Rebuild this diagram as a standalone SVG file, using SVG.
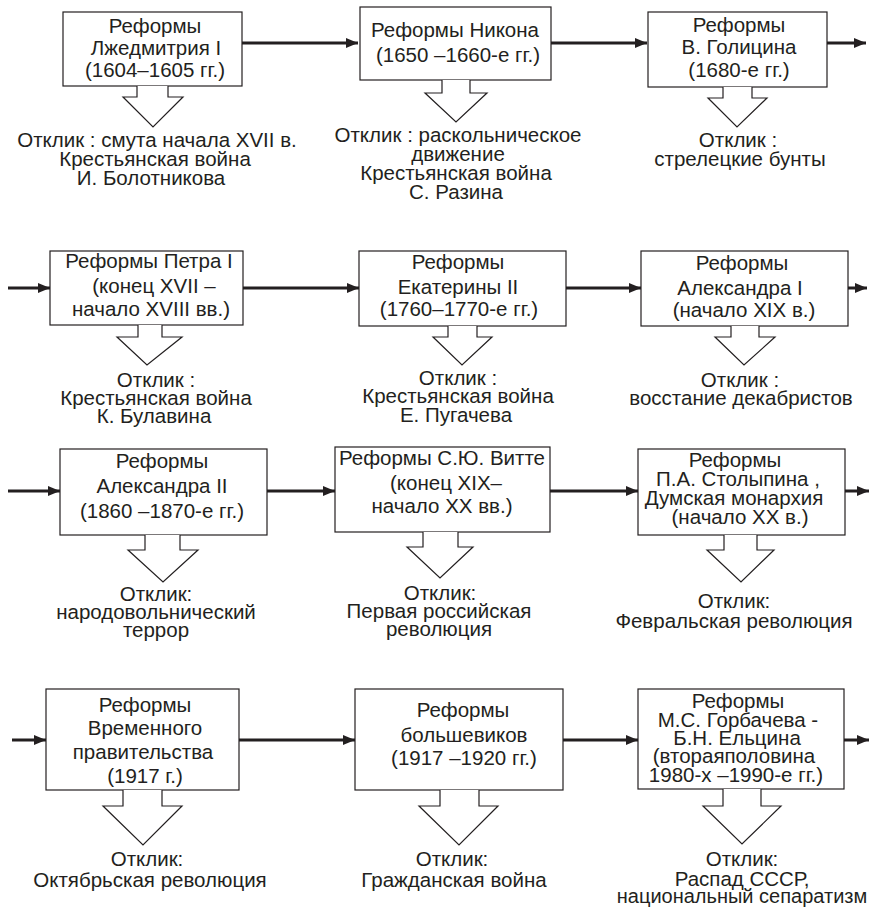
<svg xmlns="http://www.w3.org/2000/svg" width="871" height="907" viewBox="0 0 871 907">
<style>
text{font-family:"Liberation Sans",Arial,sans-serif;font-size:20.5px;fill:#231f20;text-anchor:middle}
.box{fill:#fff;stroke:#231f20;stroke-width:1.2}
.hol{fill:#fff;stroke:#231f20;stroke-width:1.2;stroke-linejoin:miter}
.con{fill:none;stroke:#231f20;stroke-width:3}
</style>
<defs>
<marker id="ah" markerUnits="userSpaceOnUse" markerWidth="12" markerHeight="10" refX="12" refY="5" orient="auto">
<path d="M0,0 L12,5 L0,10 z" fill="#231f20"/>
</marker>
</defs>
<rect width="871" height="907" fill="#fff"/>
<g id="connectors">
<line class="con" x1="242" y1="43" x2="358" y2="43" marker-end="url(#ah)"/>
<line class="con" x1="551" y1="43" x2="647" y2="43" marker-end="url(#ah)"/>
<line class="con" x1="827" y1="43" x2="866" y2="43" marker-end="url(#ah)"/>
<line class="con" x1="8" y1="288" x2="50" y2="288" marker-end="url(#ah)"/>
<line class="con" x1="243" y1="288" x2="359" y2="288" marker-end="url(#ah)"/>
<line class="con" x1="566" y1="288" x2="641" y2="288" marker-end="url(#ah)"/>
<line class="con" x1="848" y1="288" x2="867" y2="288" marker-end="url(#ah)"/>
<line class="con" x1="8" y1="491" x2="60" y2="491" marker-end="url(#ah)"/>
<line class="con" x1="267" y1="491" x2="335" y2="491" marker-end="url(#ah)"/>
<line class="con" x1="550" y1="491" x2="638" y2="491" marker-end="url(#ah)"/>
<line class="con" x1="845" y1="491" x2="869" y2="491" marker-end="url(#ah)"/>
<line class="con" x1="12" y1="740" x2="46" y2="740" marker-end="url(#ah)"/>
<line class="con" x1="239" y1="740" x2="355" y2="740" marker-end="url(#ah)"/>
<line class="con" x1="563" y1="740" x2="638" y2="740" marker-end="url(#ah)"/>
<line class="con" x1="844" y1="740" x2="869" y2="740" marker-end="url(#ah)"/>
</g>
<g id="n1">
<rect class="box" x="63" y="12" width="179" height="74"/>
<text x="155" y="33">Реформы</text><text x="156" y="55">Лжедмитрия I</text><text x="155" y="77">(1604–1605 гг.)</text>
<polyline class="hol" points="137,86 137,97 123,97 153,127 183,97 168,97 168,86"/>
<text x="157" y="147">Отклик : смута начала XVII в.</text><text x="155" y="166">Крестьянская война</text><text x="151" y="185">И. Болотникова</text>
</g>
<g id="n2">
<rect class="box" x="360" y="7" width="191" height="73"/>
<text x="455" y="37">Реформы Никона</text><text x="458" y="62">(1650 –1660-е гг.)</text>
<polyline class="hol" points="442,80 442,93 425,93 456,122 487,93 470,93 470,80"/>
<text x="458" y="142">Отклик : раскольническое</text><text x="458" y="161">движение</text><text x="456" y="180">Крестьянская война</text><text x="456" y="199">С. Разина</text>
</g>
<g id="n3">
<rect class="box" x="648" y="12" width="179" height="75"/>
<text x="739" y="32">Реформы</text><text x="739" y="54">В. Голицина</text><text x="739" y="77">(1680-е гг.)</text>
<polyline class="hol" points="723,87 723,98 708,98 737,127 767,98 752,98 752,87"/>
<text x="738" y="147">Отклик :</text><text x="740" y="166">стрелецкие бунты</text>
</g>
<g id="n4">
<rect class="box" x="50" y="251" width="193" height="74"/>
<text x="149" y="268">Реформы Петра I</text><text x="154" y="293">(конец XVII –</text><text x="151" y="316">начало XVIII вв.)</text>
<polyline class="hol" points="138,325 138,337 117,337 147,365 182,337 162,337 162,325"/>
<text x="156" y="387">Отклик :</text><text x="156" y="405">Крестьянская война</text><text x="154" y="423">К. Булавина</text>
</g>
<g id="n5">
<rect class="box" x="359" y="251" width="207" height="75"/>
<text x="458" y="269">Реформы</text><text x="458" y="294">Екатерины II</text><text x="459" y="316">(1760–1770-е гг.)</text>
<polyline class="hol" points="448,326 448,337 433,337 462,365 492,337 477,337 477,326"/>
<text x="458" y="385">Отклик :</text><text x="458" y="403">Крестьянская война</text><text x="456" y="422">Е. Пугачева</text>
</g>
<g id="n6">
<rect class="box" x="641" y="251" width="207" height="75"/>
<text x="742" y="270">Реформы</text><text x="740" y="295">Александра I</text><text x="744" y="317">(начало XIX в.)</text>
<polyline class="hol" points="731,326 731,337 715,337 744,365 775,337 759,337 759,326"/>
<text x="740" y="387">Отклик :</text><text x="741" y="405">восстание декабристов</text>
</g>
<g id="n7">
<rect class="box" x="60" y="449" width="207" height="86"/>
<text x="162" y="468">Реформы</text><text x="162" y="493">Александра II</text><text x="162" y="518">(1860 –1870-е гг.)</text>
<polyline class="hol" points="145,535 145,550 128,550 163,582 198,550 180,550 180,535"/>
<text x="156" y="601">Отклик:</text><text x="156" y="619">народовольнический</text><text x="156" y="637">террор</text>
</g>
<g id="n8">
<rect class="box" x="335" y="447" width="215" height="85"/>
<text x="442" y="465">Реформы С.Ю. Витте</text><text x="446" y="490">(конец XIX–</text><text x="442" y="513">начало XX вв.)</text>
<polyline class="hol" points="423,532 423,547 407,547 440,578 473,547 458,547 458,532"/>
<text x="440" y="600">Отклик:</text><text x="439" y="618">Первая российская</text><text x="439" y="636">революция</text>
</g>
<g id="n9">
<rect class="box" x="638" y="449" width="207" height="86"/>
<text x="735" y="467">Реформы</text><text x="738" y="486">П.А. Столыпина ,</text><text x="734" y="505">Думская монархия</text><text x="740" y="524">(начало XX в.)</text>
<polyline class="hol" points="724,535 724,550 707,550 741,582 774,550 757,550 757,535"/>
<text x="734" y="608">Отклик:</text><text x="734" y="628">Февральская революция</text>
</g>
<g id="n10">
<rect class="box" x="46" y="689" width="193" height="101"/>
<text x="145" y="712">Реформы</text><text x="145" y="735">Временного</text><text x="143" y="759">правительства</text><text x="145" y="783">(1917 г.)</text>
<polyline class="hol" points="123,790 123,806 103,806 143,845 182,806 162,806 162,790"/>
<text x="147" y="866">Отклик:</text><text x="150" y="887">Октябрьская революция</text>
</g>
<g id="n11">
<rect class="box" x="355" y="689" width="208" height="101"/>
<text x="463" y="717">Реформы</text><text x="464" y="742">большевиков</text><text x="464" y="765">(1917 –1920 гг.)</text>
<polyline class="hol" points="440,790 440,806 419,806 459,845 498,806 479,806 479,790"/>
<text x="452" y="866">Отклик:</text><text x="454" y="887">Гражданская война</text>
</g>
<g id="n12">
<rect class="box" x="638" y="689" width="206" height="100"/>
<text x="738" y="708">Реформы</text><text x="738" y="727">М.С. Горбачева -</text><text x="737" y="745">Б.Н. Ельцина</text><text x="734" y="763">(втораяполовина</text><text x="736" y="782">1980-х –1990-е гг.)</text>
<polyline class="hol" points="723,789 723,806 703,806 742,844 781,806 761,806 761,789"/>
<text x="742" y="866">Отклик:</text><text x="742" y="886">Распад СССР,</text><text x="742" y="903" style="font-size:20px">национальный сепаратизм</text>
</g>
</svg>
